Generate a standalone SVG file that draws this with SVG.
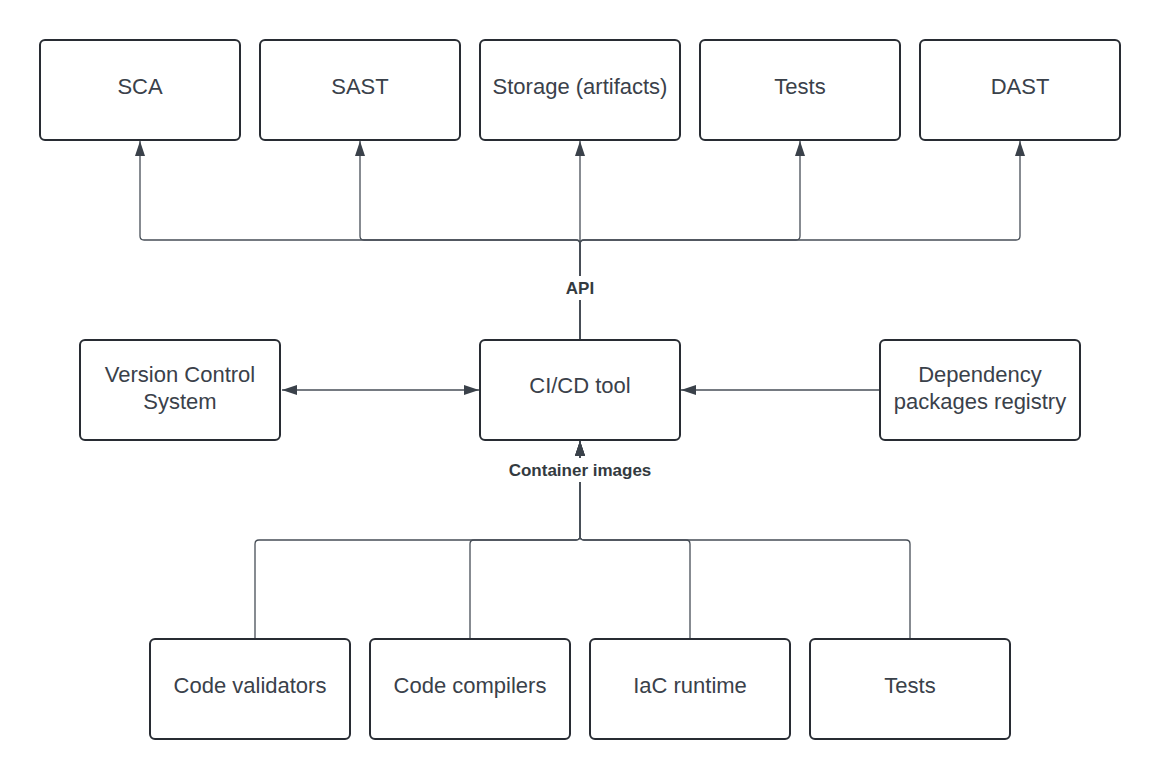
<svg xmlns="http://www.w3.org/2000/svg" width="1160" height="779" viewBox="0 0 1160 779">
<style>
.box{fill:#ffffff;stroke:#282c33;stroke-width:2}
.t{font-family:"Liberation Sans",Arial,sans-serif;font-size:22px;fill:#3a414a;text-anchor:middle}
.lbl{font-family:"Liberation Sans",Arial,sans-serif;font-size:17px;font-weight:bold;fill:#333a40;text-anchor:middle}
.c{fill:none;stroke:#474e57;stroke-width:1.3}
</style>
<defs>
<marker id="ah" markerUnits="userSpaceOnUse" markerWidth="15" markerHeight="10" refX="15" refY="5" orient="auto-start-reverse" viewBox="0 0 15 10">
<path d="M0,0 L15,5 L0,10 z" fill="#3a414a"/>
</marker>
</defs>
<rect width="1160" height="779" fill="#ffffff"/>
<g id="connectors">
<path class="c" d="M580,340 V244 Q580,240 576,240 H144 Q140,240 140,236 V141" marker-end="url(#ah)"/>
<path class="c" d="M580,340 V244 Q580,240 576,240 H364 Q360,240 360,236 V141" marker-end="url(#ah)"/>
<path class="c" d="M580,340 V141" marker-end="url(#ah)"/>
<path class="c" d="M580,340 V244 Q580,240 584,240 H796 Q800,240 800,236 V141" marker-end="url(#ah)"/>
<path class="c" d="M580,340 V244 Q580,240 584,240 H1016 Q1020,240 1020,236 V141" marker-end="url(#ah)"/>
<path class="c" d="M282,390 H479" marker-start="url(#ah)" marker-end="url(#ah)"/>
<path class="c" d="M880,390 H681" marker-end="url(#ah)"/>
<path class="c" d="M255,639 V544 Q255,540 259,540 H576 Q580,540 580,536 V441" marker-end="url(#ah)"/>
<path class="c" d="M470,639 V544 Q470,540 474,540 H576 Q580,540 580,536 V441" marker-end="url(#ah)"/>
<path class="c" d="M690,639 V544 Q690,540 686,540 H584 Q580,540 580,536 V441" marker-end="url(#ah)"/>
<path class="c" d="M910,639 V544 Q910,540 906,540 H584 Q580,540 580,536 V441" marker-end="url(#ah)"/>
<rect x="560" y="276" width="40" height="24" fill="#ffffff"/>
<text class="lbl" x="580" y="294">API</text>
<rect x="503" y="458" width="154" height="24" fill="#ffffff"/>
<text class="lbl" x="580" y="476">Container images</text>
</g>
<g id="sca"><rect class="box" x="40" y="40" width="200" height="100" rx="5"/><text class="t" x="140" y="94">SCA</text></g>
<g id="sast"><rect class="box" x="260" y="40" width="200" height="100" rx="5"/><text class="t" x="360" y="94">SAST</text></g>
<g id="storage"><rect class="box" x="480" y="40" width="200" height="100" rx="5"/><text class="t" x="580" y="94">Storage (artifacts)</text></g>
<g id="tests-top"><rect class="box" x="700" y="40" width="200" height="100" rx="5"/><text class="t" x="800" y="94">Tests</text></g>
<g id="dast"><rect class="box" x="920" y="40" width="200" height="100" rx="5"/><text class="t" x="1020" y="94">DAST</text></g>
<g id="vcs"><rect class="box" x="80" y="340" width="200" height="100" rx="5"/><text class="t" x="180" y="382">Version Control</text><text class="t" x="180" y="409">System</text></g>
<g id="cicd"><rect class="box" x="480" y="340" width="200" height="100" rx="5"/><text class="t" x="580" y="393">CI/CD tool</text></g>
<g id="deps"><rect class="box" x="880" y="340" width="200" height="100" rx="5"/><text class="t" x="980" y="382">Dependency</text><text class="t" x="980" y="409">packages registry</text></g>
<g id="validators"><rect class="box" x="150" y="639" width="200" height="100" rx="5"/><text class="t" x="250" y="693">Code validators</text></g>
<g id="compilers"><rect class="box" x="370" y="639" width="200" height="100" rx="5"/><text class="t" x="470" y="693">Code compilers</text></g>
<g id="iac"><rect class="box" x="590" y="639" width="200" height="100" rx="5"/><text class="t" x="690" y="693">IaC runtime</text></g>
<g id="tests-bottom"><rect class="box" x="810" y="639" width="200" height="100" rx="5"/><text class="t" x="910" y="693">Tests</text></g>
</svg>
